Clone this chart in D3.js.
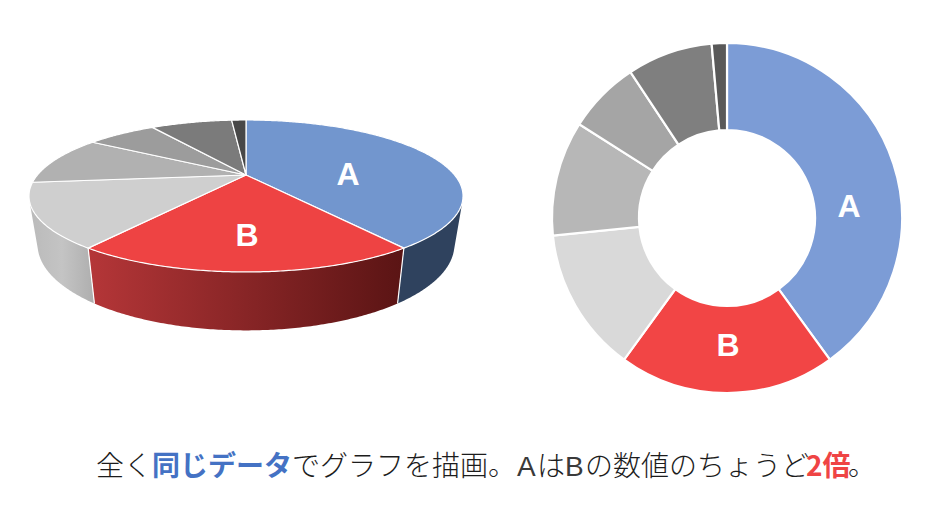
<!DOCTYPE html>
<html><head><meta charset="utf-8">
<script src="https://cdn.jsdelivr.net/npm/d3@7"></script>
<style>html,body{margin:0;padding:0;background:#fff}svg{display:block}</style>
</head><body><svg id="c" width="949" height="526"></svg>
<script>
const categories = ["A","B","C","D","E","F","G"];
const values = [40,20,13.4,10.6,6.7,7.9,1.4];
const donutColors = ["#7C9CD6","#F24545","#D9D9D9","#B7B7B7","#A5A5A5","#7F7F7F","#595959"];
const topColors = ["#7296CE","#EE4343","#CFCFCF","#B1B1B1","#9C9C9C","#7B7B7B","#484848"];
const wallStops = [["#2F425E","#2F425E"],["#B53638","#5A1414"],["#BABABA","#C4C4C4","#AEAEAE"],null,null,null,null];
const captionRuns = ["全く","同じデータ","でグラフを描画。","A","は","B","の数値のちょうど","2倍","。"];
const captionColors = [null,"#4472C4",null,"#3a3a3a",null,"#3a3a3a",null,"#EF4444",null];
const captionX = [96,152,292,517,537,565,585,806,848];

const svg = d3.select("#c");
const defs = svg.append("defs");
const pie = d3.pie().sort(null).value(d=>d)(values);
const FONT = "Liberation Sans";
const isLatin = d=>d==="A"||d==="B";

// donut
const donut = svg.append("g").attr("transform","translate(727,218)");
const arc = d3.arc().innerRadius(88).outerRadius(175);
donut.selectAll("path").data(pie).join("path").attr("d",arc)
  .attr("fill",(d,i)=>donutColors[i]).attr("stroke","#fff").attr("stroke-width",2.2);
donut.selectAll("text").data(pie.slice(0,2)).join("text")
  .attr("x",(d,i)=>i==0?122:1).attr("y",(d,i)=>i==0?-12:127)
  .attr("text-anchor","middle").attr("dominant-baseline","central")
  .attr("font-family",FONT).attr("font-weight",700).attr("font-size",32).attr("fill","#fff")
  .text((d,i)=>categories[i]);

// projected pie: perspective homography of a unit circle
const K=0.276;
const top3 = t=>{const u=Math.sin(t),v=-Math.cos(t),w=1-K*v;return [246+208.6*u/w,175+70.2*v/w];};
const bot3 = t=>{const u=Math.sin(t),v=-Math.cos(t),w=1-K*v;return [246+200.3*u/w,221+79.2*v/w];};
const samples=(a,b)=>{const n=Math.max(2,Math.ceil((b-a)/0.01));return d3.range(n+1).map(i=>a+(b-a)*i/n);};
const line=d3.line();
const g3=svg.append("g");
const wallFrom=Math.acos(-0.35), wallTo=2*Math.PI-wallFrom;
// walls
pie.forEach((d,i)=>{
  if(!wallStops[i])return;
  const a=Math.max(d.startAngle,wallFrom),b=Math.min(d.endAngle,wallTo);
  const t=samples(a,b);
  const pts=t.map(top3).concat(t.slice().reverse().map(bot3));
  const xs=d3.extent(pts,p=>p[0]);
  const id="w"+i;
  const lg=defs.append("linearGradient").attr("id",id).attr("gradientUnits","userSpaceOnUse")
    .attr("x1",xs[0]).attr("x2",xs[1]).attr("y1",0).attr("y2",0);
  wallStops[i].forEach((c,j,arr)=>lg.append("stop").attr("offset",j/(arr.length-1)).attr("stop-color",c));
  g3.append("path").attr("d",line(pts)+"Z").attr("fill",`url(#${id})`);
});
pie.slice(0,2).forEach(d=>{
  g3.append("path").attr("d",line([top3(d.endAngle),bot3(d.endAngle)])).attr("stroke","#fff").attr("stroke-width",1.2).attr("fill","none");
});
// top face
pie.forEach((d,i)=>{
  const pts=[[246,175]].concat(samples(d.startAngle,d.endAngle).map(top3));
  g3.append("path").attr("d",line(pts)+"Z").attr("fill",topColors[i]).attr("stroke","#fff").attr("stroke-width",1.2).attr("stroke-linejoin","round");
});
g3.selectAll("text").data(pie.slice(0,2)).join("text")
  .attr("x",(d,i)=>i==0?348:247).attr("y",(d,i)=>i==0?174:235)
  .attr("text-anchor","middle").attr("dominant-baseline","central")
  .attr("font-family",FONT).attr("font-weight",700).attr("font-size",32).attr("fill","#fff")
  .text((d,i)=>categories[i]);

// caption
const cap=svg.append("text").attr("y",476)
  .attr("font-family","Noto Sans CJK JP").attr("font-size",28);
cap.selectAll("tspan").data(captionRuns).join("tspan").text(d=>d)
  .attr("x",(d,i)=>captionX[i])
  .attr("fill",(d,i)=>captionColors[i]||"#1c1c1c")
  .attr("font-weight",(d,i)=>captionColors[i]&&!isLatin(d)?700:300)
  .attr("font-family",d=>isLatin(d)?FONT:null)
  .attr("font-size",d=>isLatin(d)?28:null);
</script></body></html>
